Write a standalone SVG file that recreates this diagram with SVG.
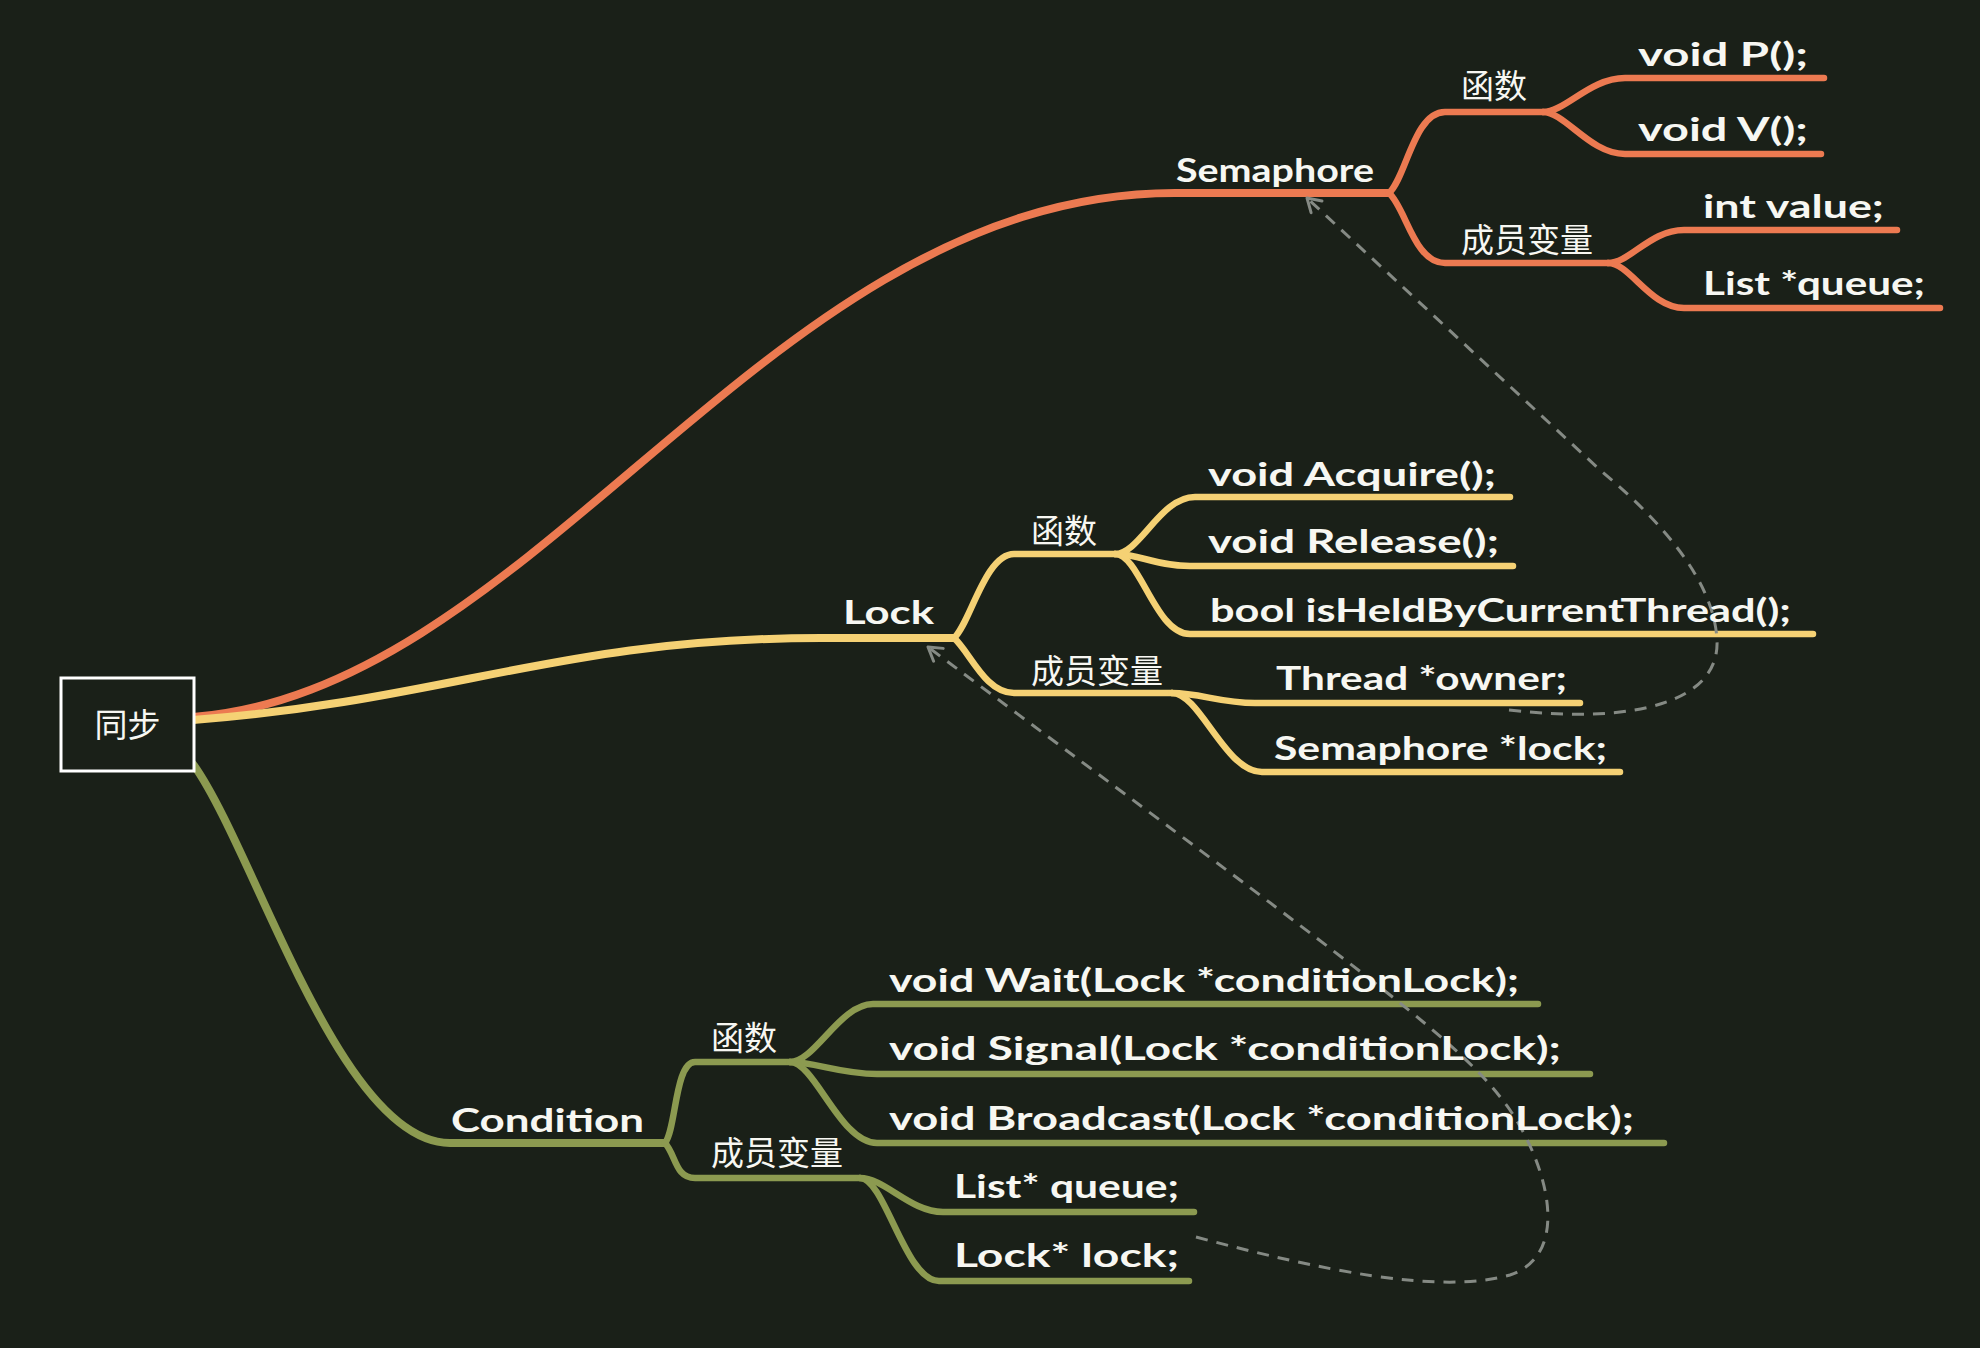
<svg xmlns="http://www.w3.org/2000/svg" width="1980" height="1348" viewBox="0 0 1980 1348">
<defs>
<style>
.bg{fill:#1a2018}
.e{fill:none;stroke-linecap:round;stroke-linejoin:round;stroke-width:6.5}
.main{stroke-width:8}
.o{stroke:#ec7a51}
.y{stroke:#f5d174}
.g{stroke:#8c9a50}
.dash{fill:none;stroke:#858a84;stroke-width:3;stroke-dasharray:12 9}
.t{fill:#f7f7f2;font-family:Lato,"Open Sans","Noto Sans",sans-serif;font-weight:bold;font-size:32px}
.c{fill:#f7f7f2;font-family:"Noto Sans CJK SC","Noto Sans",sans-serif;font-size:33px}
</style>
<marker id="arr" viewBox="0 0 20 20" refX="18" refY="10" markerWidth="20" markerHeight="20" markerUnits="userSpaceOnUse" orient="auto">
<path d="M5,2 L18,10 L5,18" fill="none" stroke="#858a84" stroke-width="3" stroke-linecap="round" stroke-linejoin="round"/>
</marker>
</defs>
<rect class="bg" x="0" y="0" width="1980" height="1348"/>

<g id="connectors">
<path class="e main o" d="M193,717 C540,690 770,193 1175,193 L1389,193"/>
<path class="e o" d="M1389,193 C1406,178 1414,112 1445,112 L1543,112"/>
<path class="e o" d="M1543,112 C1565,112 1590,78 1625,78 L1824,78"/>
<path class="e o" d="M1543,112 C1565,112 1590,154 1625,154 L1821,154"/>
<path class="e o" d="M1389,193 C1406,208 1414,263 1445,263 L1608,263"/>
<path class="e o" d="M1608,263 C1630,263 1650,230 1684,230 L1897,230"/>
<path class="e o" d="M1608,263 C1630,263 1650,308 1684,308 L1940,308"/>

<path class="e main y" d="M193,720 C450,700 560,638 821,638 L954,638"/>
<path class="e y" d="M954,638 C970,624 985,554 1014,554 L1115,554"/>
<path class="e y" d="M1115,554 C1140,554 1160,497 1195,497 L1510,497"/>
<path class="e y" d="M1115,554 C1140,554 1155,566 1190,566 L1513,566"/>
<path class="e y" d="M1115,554 C1140,554 1155,634 1190,634 L1813,634"/>
<path class="e y" d="M954,638 C970,652 985,693 1014,693 L1172,693"/>
<path class="e y" d="M1172,693 C1200,693 1220,703 1255,703 L1580,703"/>
<path class="e y" d="M1172,693 C1200,693 1225,772 1262,772 L1620,772"/>

<path class="e main g" d="M193,764 C255,850 340,1143 450,1143 L665,1143"/>
<path class="e g" d="M665,1143 C676,1130 675,1062 695,1062 L790,1062"/>
<path class="e g" d="M790,1062 C815,1062 840,1004 873,1004 L1538,1004"/>
<path class="e g" d="M790,1062 C815,1062 840,1074 877,1074 L1590,1074"/>
<path class="e g" d="M790,1062 C815,1062 840,1143 877,1143 L1664,1143"/>
<path class="e g" d="M665,1143 C676,1155 675,1178 695,1178 L860,1178"/>
<path class="e g" d="M860,1178 C885,1178 910,1212 943,1212 L1194,1212"/>
<path class="e g" d="M860,1178 C885,1178 905,1281 939,1281 L1189,1281"/>

<path class="dash" marker-end="url(#arr)" d="M1509,710 C1640,725 1720,700 1717,640 C1714,580 1660,520 1600,470 L1307,198"/>
<path class="dash" marker-end="url(#arr)" d="M1196,1237 C1320,1270 1440,1295 1510,1275 C1570,1255 1550,1170 1510,1110 C1460,1040 1380,985 928,647"/>
</g>

<g id="root">
<rect x="61" y="678" width="133" height="93" fill="#1a2018" stroke="#ffffff" stroke-width="3"/>
<text class="c" x="127.5" y="737" text-anchor="middle" font-size="34">同步</text>
</g>

<g id="semaphore"><text class="t" x="1176" y="182" textLength="198" lengthAdjust="spacingAndGlyphs">Semaphore</text></g>
<g id="sem-func"><text class="c" x="1461" y="98">函数</text></g>
<g id="sem-vars"><text class="c" x="1461" y="252">成员变量</text></g>
<g id="sem-p"><text class="t" x="1638" y="66" textLength="170" lengthAdjust="spacingAndGlyphs">void P();</text></g>
<g id="sem-v"><text class="t" x="1638" y="141" textLength="170" lengthAdjust="spacingAndGlyphs">void V();</text></g>
<g id="sem-value"><text class="t" x="1703" y="218" textLength="181" lengthAdjust="spacingAndGlyphs">int value;</text></g>
<g id="sem-queue"><text class="t" x="1703" y="295" textLength="222" lengthAdjust="spacingAndGlyphs">List *queue;</text></g>

<g id="lock"><text class="t" x="843" y="624" textLength="91" lengthAdjust="spacingAndGlyphs">Lock</text></g>
<g id="lock-func"><text class="c" x="1031" y="543">函数</text></g>
<g id="lock-vars"><text class="c" x="1031" y="683">成员变量</text></g>
<g id="lock-acquire"><text class="t" x="1208" y="486" textLength="288" lengthAdjust="spacingAndGlyphs">void Acquire();</text></g>
<g id="lock-release"><text class="t" x="1208" y="553" textLength="291" lengthAdjust="spacingAndGlyphs">void Release();</text></g>
<g id="lock-held"><text class="t" x="1210" y="622" textLength="581" lengthAdjust="spacingAndGlyphs">bool isHeldByCurrentThread();</text></g>
<g id="lock-owner"><text class="t" x="1276" y="690" textLength="291" lengthAdjust="spacingAndGlyphs">Thread *owner;</text></g>
<g id="lock-sem"><text class="t" x="1274" y="760" textLength="333" lengthAdjust="spacingAndGlyphs">Semaphore *lock;</text></g>

<g id="condition"><text class="t" x="451" y="1132" textLength="193" lengthAdjust="spacingAndGlyphs">Condition</text></g>
<g id="cond-func"><text class="c" x="711" y="1050">函数</text></g>
<g id="cond-vars"><text class="c" x="711" y="1165">成员变量</text></g>
<g id="cond-wait"><text class="t" x="889" y="992" textLength="630" lengthAdjust="spacingAndGlyphs">void Wait(Lock *conditionLock);</text></g>
<g id="cond-signal"><text class="t" x="889" y="1060" textLength="672" lengthAdjust="spacingAndGlyphs">void Signal(Lock *conditionLock);</text></g>
<g id="cond-broadcast"><text class="t" x="889" y="1130" textLength="745" lengthAdjust="spacingAndGlyphs">void Broadcast(Lock *conditionLock);</text></g>
<g id="cond-queue"><text class="t" x="954" y="1198" textLength="225" lengthAdjust="spacingAndGlyphs">List* queue;</text></g>
<g id="cond-lock"><text class="t" x="954" y="1267" textLength="225" lengthAdjust="spacingAndGlyphs">Lock* lock;</text></g>
</svg>
